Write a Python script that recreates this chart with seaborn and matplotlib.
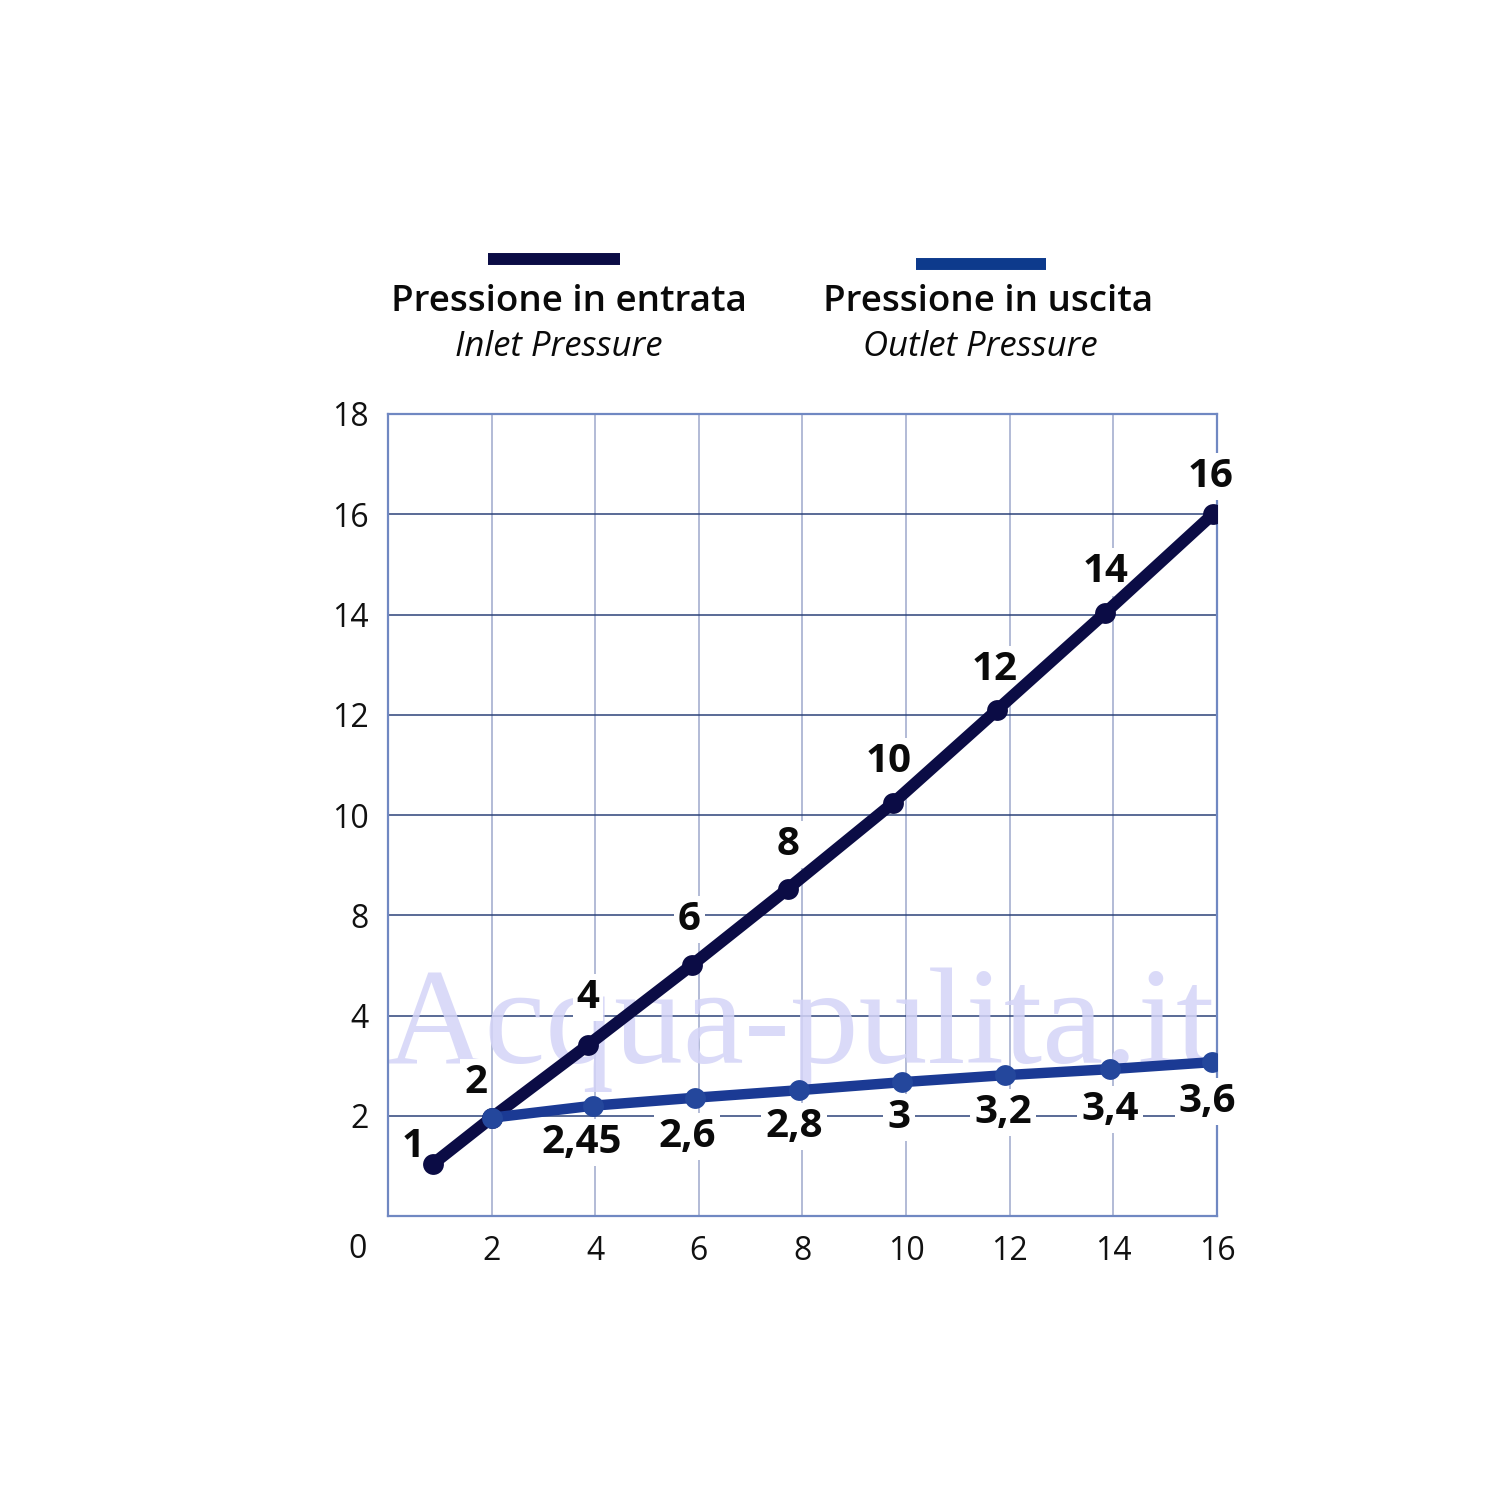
import pandas as pd
import matplotlib
matplotlib.use("Agg")
import matplotlib.pyplot as plt
import seaborn as sns
from matplotlib.lines import Line2D

# values (x along the bottom axis, y in plot grid units)
inlet_x = [0.87, 2.0, 3.86, 5.87, 7.72, 9.75, 11.76, 13.84, 15.92]
inlet_y = [1.04, 1.96, 3.41, 5.01, 6.53, 8.24, 10.1, 12.03, 14.0]
inlet_labels = ["1", "2", "4", "6", "8", "10", "12", "14", "16"]

outlet_x = [2.0, 3.95, 5.93, 7.93, 9.92, 11.91, 13.94, 15.91]
outlet_y = [1.96, 2.20, 2.36, 2.51, 2.67, 2.81, 2.93, 3.07]
outlet_labels = ["", "2,45", "2,6", "2,8", "3", "3,2", "3,4", "3,6"]

x_ticks = [2, 4, 6, 8, 10, 12, 14, 16]
x_tick_labels = ["2", "4", "6", "8", "10", "12", "14", "16"]
y_ticks = [2, 4, 6, 8, 10, 12, 14, 16]
y_tick_labels = ["2", "4", "8", "10", "12", "14", "16", "18"]

inlet_name = ("Pressione in entrata", "Inlet Pressure")
outlet_name = ("Pressione in uscita", "Outlet Pressure")
watermark = "Acqua-pulita.it"

inlet_color = "#0b0c45"
outlet_color = "#1b3a94"

sns.set_theme(style="white")
plt.rcParams["font.family"] = ["Open Sans", "DejaVu Sans"]

df_in = pd.DataFrame({"x": inlet_x, "y": inlet_y, "label": inlet_labels})
df_out = pd.DataFrame({"x": outlet_x, "y": outlet_y, "label": outlet_labels})

fig = plt.figure(figsize=(15, 15), dpi=100)
ax = fig.add_axes([388 / 1500, 1 - 1216 / 1500, (1217 - 388) / 1500, (1216 - 414) / 1500])

sns.lineplot(data=df_in, x="x", y="y", ax=ax, color=inlet_color, lw=8.6,
             marker="o", markersize=15, markeredgewidth=0, zorder=4)
sns.lineplot(data=df_out, x="x", y="y", ax=ax, color=outlet_color, lw=7.5,
             marker="o", markersize=15, markeredgewidth=0, markerfacecolor="#24479c", zorder=5)

ax.set_xlim(0, 16)
ax.set_ylim(0, 16)
ax.set_xticks(x_ticks)
ax.set_xticklabels(x_tick_labels)
ax.set_yticks(y_ticks)
ax.set_yticklabels(y_tick_labels)
ax.set_xlabel("")
ax.set_ylabel("")
ax.tick_params(axis="both", length=0, labelsize=23, colors="#111111")
ax.tick_params(axis="x", pad=14)
ax.tick_params(axis="y", pad=14)

ax.grid(axis="y", color="#2c4279", lw=1.1)
ax.grid(axis="x", color="#9ea8cc", lw=1.1)
ax.set_axisbelow(True)
for s in ax.spines.values():
    s.set_color("#7088c2")
    s.set_linewidth(1.6)

# corner zero
fig.text(358 / 1500, 1 - 1249 / 1500, "0", ha="center", va="center", fontsize=23, color="#111111")

# watermark
ax.text(7.95, 3.05, watermark, ha="center", va="baseline", family="Liberation Serif",
        fontsize=99, color="#d4d4f7", alpha=0.85, zorder=1.5)

# point labels
lab_kw = dict(textcoords="offset points", ha="center", va="center", fontsize=29,
              fontweight="bold", color="#0a0a0a", zorder=3,
              bbox=dict(boxstyle="square,pad=0.1", fc="white", ec="none"))

in_off = [(-20, 17), (-16, 35), (0, 48), (-3, 45), (0, 44), (-5, 41), (-3, 40), (0, 41), (-2, 38)]
for (_, r), (dx, dy) in zip(df_in.iterrows(), in_off):
    ax.annotate(r["label"], (r["x"], r["y"]), xytext=(dx * 0.72, dy * 0.72), **lab_kw)

out_off = [(0, 0), (-11, -37), (-8, -39), (-5, -36), (-3, -35), (-2, -37), (0, -40), (-5, -39)]
for (_, r), (dx, dy) in zip(df_out.iterrows(), out_off):
    if not r["label"]:
        continue
    ax.annotate(r["label"], (r["x"], r["y"]), xytext=(dx * 0.72, dy * 0.72), **lab_kw)

# legend drawn by hand above the plot
fig.add_artist(Line2D([488 / 1500, 620 / 1500], [1 - 259 / 1500] * 2, color=inlet_color,
                      lw=8.6, solid_capstyle="butt", transform=fig.transFigure))
fig.add_artist(Line2D([916 / 1500, 1046 / 1500], [1 - 264 / 1500] * 2, color="#0d3a8c",
                      lw=8.6, solid_capstyle="butt", transform=fig.transFigure))
fig.text(569 / 1500, 1 - 302 / 1500, inlet_name[0], ha="center", va="center", fontsize=26.5,
         fontweight="semibold", color="#0a0a0a")
fig.text(559 / 1500, 1 - 347 / 1500, inlet_name[1], ha="center", va="center", fontsize=25,
         style="italic", color="#0a0a0a")
fig.text(988 / 1500, 1 - 302 / 1500, outlet_name[0], ha="center", va="center", fontsize=26.5,
         fontweight="semibold", color="#0a0a0a")
fig.text(980 / 1500, 1 - 347 / 1500, outlet_name[1], ha="center", va="center", fontsize=25,
         style="italic", color="#0a0a0a")

fig.savefig("out.png", dpi=100, facecolor="white")
